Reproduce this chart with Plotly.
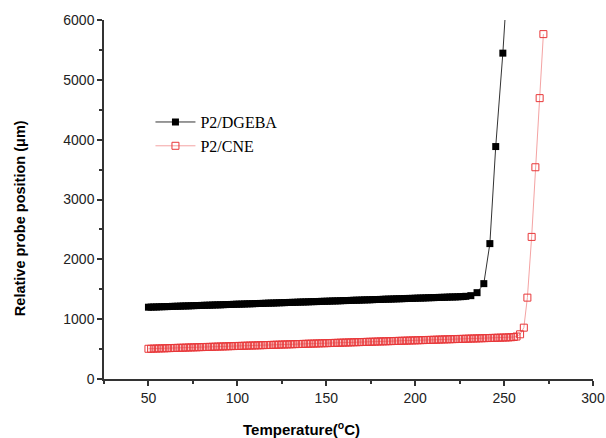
import plotly.graph_objects as go

# P2/DGEBA (black)
t_dgeba = [50, 51.5, 53, 54.5, 56, 57.5, 59, 60.5, 62, 63.5, 65, 66.5, 68, 69.5, 71, 72.5, 74, 75.5, 77, 78.5,
           80, 81.5, 83, 84.5, 86, 87.5, 89, 90.5, 92, 93.5, 95, 96.5, 98, 99.5, 101, 102.5, 104, 105.5, 107, 108.5,
           110, 111.5, 113, 114.5, 116, 117.5, 119, 120.5, 122, 123.5, 125, 126.5, 128, 129.5, 131, 132.5, 134, 135.5, 137, 138.5,
           140, 141.5, 143, 144.5, 146, 147.5, 149, 150.5, 152, 153.5, 155, 156.5, 158, 159.5, 161, 162.5, 164, 165.5, 167, 168.5,
           170, 171.5, 173, 174.5, 176, 177.5, 179, 180.5, 182, 183.5, 185, 186.5, 188, 189.5, 191, 192.5, 194, 195.5, 197, 198.5,
           200, 201.5, 203, 204.5, 206, 207.5, 209, 210.5, 212, 213.5, 215, 216.5, 218, 219.5, 221, 222.5, 224, 225.5, 227, 228.5,
           231.3, 234.8, 238.6, 242.0, 245.3, 249.3, 252.8]
v_dgeba = [1200, 1202, 1203, 1204, 1206, 1208, 1209, 1210, 1212, 1214, 1215, 1216, 1218, 1220, 1221, 1222, 1224, 1226, 1227, 1228,
           1230, 1232, 1233, 1234, 1236, 1238, 1239, 1240, 1242, 1244, 1245, 1246, 1248, 1250, 1251, 1252, 1254, 1256, 1257, 1258,
           1260, 1262, 1263, 1264, 1266, 1268, 1269, 1270, 1272, 1274, 1275, 1276, 1278, 1280, 1281, 1282, 1284, 1286, 1287, 1288,
           1290, 1292, 1293, 1294, 1296, 1298, 1299, 1300, 1302, 1304, 1305, 1306, 1308, 1310, 1311, 1312, 1314, 1316, 1317, 1318,
           1320, 1322, 1323, 1324, 1326, 1328, 1329, 1330, 1332, 1334, 1335, 1336, 1338, 1340, 1341, 1342, 1344, 1346, 1347, 1348,
           1350, 1352, 1353, 1354, 1356, 1358, 1359, 1360, 1362, 1364, 1365, 1366, 1368, 1370, 1371, 1372, 1374, 1376, 1378, 1382,
           1393, 1443, 1594, 2263, 3885, 5446, 7100]

# P2/CNE (red)
t_cne = [50, 51.5, 53, 54.5, 56, 57.5, 59, 60.5, 62, 63.5, 65, 66.5, 68, 69.5, 71, 72.5, 74, 75.5, 77, 78.5,
         80, 81.5, 83, 84.5, 86, 87.5, 89, 90.5, 92, 93.5, 95, 96.5, 98, 99.5, 101, 102.5, 104, 105.5, 107, 108.5,
         110, 111.5, 113, 114.5, 116, 117.5, 119, 120.5, 122, 123.5, 125, 126.5, 128, 129.5, 131, 132.5, 134, 135.5, 137, 138.5,
         140, 141.5, 143, 144.5, 146, 147.5, 149, 150.5, 152, 153.5, 155, 156.5, 158, 159.5, 161, 162.5, 164, 165.5, 167, 168.5,
         170, 171.5, 173, 174.5, 176, 177.5, 179, 180.5, 182, 183.5, 185, 186.5, 188, 189.5, 191, 192.5, 194, 195.5, 197, 198.5,
         200, 201.5, 203, 204.5, 206, 207.5, 209, 210.5, 212, 213.5, 215, 216.5, 218, 219.5, 221, 222.5, 224, 225.5, 227, 228.5,
         230, 231.5, 233, 234.5, 236, 237.5, 239, 240.5, 242, 243.5, 245, 246.5, 248, 249.5, 251, 252.5, 254, 255.5, 257,
         259.0, 261.1, 263.1, 265.5, 267.6, 270.0, 272.1]
v_cne = [505, 506, 508, 509, 511, 512, 513, 515, 516, 518, 519, 521, 522, 523, 525, 526, 528, 529, 530, 532,
         533, 535, 536, 537, 539, 540, 542, 543, 544, 546, 547, 549, 550, 552, 553, 554, 556, 557, 559, 560,
         561, 563, 564, 566, 567, 568, 570, 571, 573, 574, 576, 577, 578, 580, 581, 583, 584, 585, 587, 588,
         590, 591, 592, 594, 595, 597, 598, 599, 601, 602, 604, 605, 607, 608, 609, 611, 612, 614, 615, 616,
         618, 619, 621, 622, 623, 625, 626, 628, 629, 630, 632, 633, 635, 636, 638, 639, 640, 642, 643, 645,
         646, 647, 649, 650, 652, 653, 654, 656, 657, 659, 660, 662, 663, 664, 666, 667, 669, 670, 671, 673,
         674, 676, 677, 678, 680, 681, 683, 684, 685, 687, 688, 690, 691, 693, 694, 696, 698, 702, 710,
         747, 858, 1360, 2375, 3539, 4694, 5764]

x_ticks = [50, 100, 150, 200, 250, 300]
y_ticks = [0, 1000, 2000, 3000, 4000, 5000, 6000]
x_title = "<b>Temperature(<sup>o</sup>C)</b>"
y_title = "<b>Relative probe position (μm)</b>"

fig = go.Figure()
fig.add_trace(go.Scatter(
    x=t_dgeba, y=v_dgeba, mode="lines+markers", name="P2/DGEBA",
    line=dict(color="#333333", width=1),
    marker=dict(symbol="square", size=7, color="black", line=dict(width=0)),
))
fig.add_trace(go.Scatter(
    x=t_cne, y=v_cne, mode="lines+markers", name="P2/CNE",
    line=dict(color="#f4a3a3", width=1),
    marker=dict(symbol="square-open", size=7, color="#e8383a", line=dict(width=1)),
))

axis_common = dict(
    showline=True, linecolor="#333333", linewidth=1.5,
    ticks="outside", ticklen=5, tickwidth=1.5, tickcolor="#333333",
    showgrid=False, zeroline=False, automargin=False,
    tickfont=dict(family="Liberation Sans, Arial", size=14, color="#222222"),
)

fig.update_xaxes(
    range=[25, 300], tickvals=x_ticks, ticktext=[str(v) for v in x_ticks],
    minor=dict(ticks="outside", ticklen=3, tickwidth=1.5, tickcolor="#333333", dtick=25, tick0=25),
    **axis_common,
)
fig.update_yaxes(
    range=[0, 6000], tickvals=y_ticks, ticktext=[str(v) for v in y_ticks],
    minor=dict(ticks="outside", ticklen=3, tickwidth=1.5, tickcolor="#333333", dtick=500, tick0=0),
    **axis_common,
)

fig.add_annotation(
    text=x_title, xref="paper", yref="paper", x=0.403, y=-0.1365,
    xanchor="center", yanchor="middle", showarrow=False,
    font=dict(family="Liberation Sans, Arial", size=15, color="black"),
)
fig.add_annotation(
    text=y_title, xref="paper", yref="paper", x=-0.1718, y=0.448, textangle=-90,
    xanchor="center", yanchor="middle", showarrow=False,
    font=dict(family="Liberation Sans, Arial", size=14.5, color="black"),
)

fig.update_layout(
    width=606, height=438,
    margin=dict(l=104, r=13, t=20, b=59),
    paper_bgcolor="white", plot_bgcolor="white",
    showlegend=True,
    legend=dict(
        x=0.095, y=0.763, xanchor="left", yanchor="top",
        bgcolor="rgba(0,0,0,0)",
        font=dict(family="Liberation Serif, Times New Roman", size=16, color="black"),
        itemwidth=40, tracegroupgap=0,
    ),
)

# remove the default 8px page margin so the 606x438 figure fills the window exactly
fig.write_html(
    "out.html",
    config={"displayModeBar": False},
    post_script="document.body.style.margin='0';document.body.style.overflow='hidden';",
)
